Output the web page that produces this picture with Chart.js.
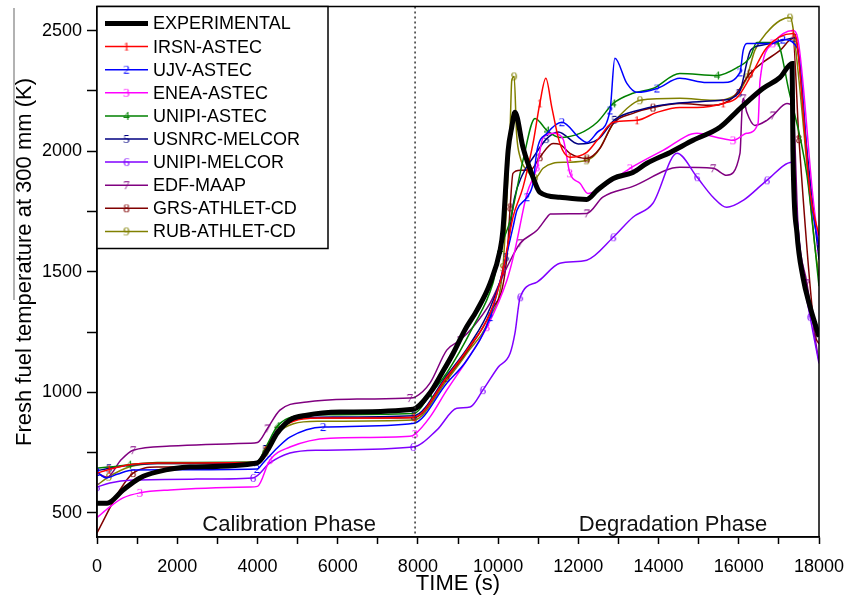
<!DOCTYPE html>
<html>
<head>
<meta charset="utf-8">
<script src="https://cdn.jsdelivr.net/npm/chart.js@4.4.0/dist/chart.umd.min.js"></script>
<style>
  html, body { margin: 0; padding: 0; background: #fff; }
  #wrap { width: 848px; height: 597px; }
</style>
</head>
<body>
<div id="wrap"><canvas id="tempChart" width="848" height="597"></canvas></div>
<script>
// time (s) / temperature (K)
const expT = [0, 250, 650, 1070, 1500, 2320, 3990, 4250, 4490, 4810, 5230, 6060, 7880, 8300, 8600, 8880, 9170, 9470, 9800, 10050, 10120, 10250, 10340, 10420, 10620, 10870, 11040, 11540, 12210, 12470, 12870, 13360, 13710, 14290, 14860, 15530, 16030, 16600, 17030, 17330, 17350, 17450, 17600, 17780, 17950, 18000];
const expV = [540, 540, 595, 645, 670, 690, 707, 760, 830, 885, 905, 918, 930, 997, 1080, 1162, 1258, 1340, 1452, 1590, 1672, 2003, 2099, 2161, 2016, 1892, 1830, 1809, 1800, 1838, 1887, 1912, 1950, 1995, 2045, 2099, 2177, 2260, 2306, 2364, 2003, 1660, 1477, 1353, 1258, 1230];

const irsnT = [0, 300, 800, 1500, 3990, 4200, 4500, 4900, 5500, 7900, 8720, 9220, 9800, 10120, 10370, 10620, 10870, 11040, 11190, 11340, 11540, 11790, 12210, 12470, 12870, 13460, 13960, 14530, 14960, 15610, 15960, 16280, 16700, 17350, 17450, 17780, 18000];
const irsnV = [665, 680, 700, 707, 710, 760, 840, 880, 893, 897, 1063, 1175, 1328, 1506, 1726, 1850, 2032, 2198, 2302, 2181, 2032, 1975, 1995, 2045, 2120, 2128, 2161, 2181, 2181, 2198, 2223, 2306, 2430, 2488, 2450, 1825, 1650];

const ujvT = [0, 230, 500, 900, 3990, 4140, 4500, 4810, 5640, 7900, 8720, 9220, 9800, 10220, 10370, 10470, 10720, 10870, 10970, 11220, 11590, 12040, 12210, 12470, 12790, 12910, 13210, 13460, 13960, 14530, 15200, 15610, 16030, 16110, 16200, 16850, 17100, 17450, 17800, 18000];
const ujvV = [670, 645, 660, 678, 682, 707, 770, 814, 856, 872, 1038, 1133, 1312, 1577, 1684, 1755, 1809, 1867, 2003, 2074, 2120, 2053, 2036, 2078, 2169, 2385, 2281, 2244, 2260, 2302, 2285, 2285, 2327, 2418, 2447, 2447, 2463, 2430, 1800, 1600];

const eneaT = [0, 320, 650, 1070, 1820, 3810, 4000, 4310, 4810, 5810, 7800, 7930, 8300, 8720, 9220, 9720, 10220, 10420, 10720, 10970, 11120, 11370, 11620, 11790, 12040, 12240, 12470, 13290, 14110, 14960, 15460, 15860, 16200, 16480, 16530, 16850, 17350, 17480, 17850, 18000];
const eneaV = [480, 525, 562, 583, 595, 607, 610, 719, 773, 810, 818, 827, 897, 1009, 1133, 1270, 1465, 1590, 1825, 1933, 2057, 2074, 2050, 1908, 1867, 1825, 1838, 1929, 2003, 2074, 2057, 2045, 2074, 2115, 2293, 2447, 2500, 2459, 1809, 1600];

const unipiAT = [0, 300, 800, 1500, 3990, 4200, 4500, 4900, 5500, 7900, 8300, 8720, 9370, 9870, 10050, 10300, 10620, 10920, 11220, 11540, 12040, 12470, 12870, 13360, 13860, 14530, 15460, 15960, 16280, 16450, 16950, 17250, 17700, 18000];
const unipiAV = [686, 690, 700, 709, 712, 770, 860, 900, 907, 912, 990, 1080, 1270, 1452, 1590, 1713, 1962, 2136, 2086, 2057, 2074, 2120, 2198, 2240, 2260, 2322, 2314, 2347, 2389, 2451, 2451, 2250, 1900, 1440];

const usnrcT = [0, 300, 800, 1500, 3990, 4200, 4500, 4900, 5500, 7900, 8720, 9300, 9800, 10200, 10400, 10600, 10900, 11200, 11500, 12000, 12500, 12900, 13500, 14500, 15500, 16000, 16300, 16600, 17100, 17400, 17700, 18000];
const usnrcV = [675, 685, 698, 705, 708, 765, 845, 885, 897, 903, 1070, 1200, 1350, 1560, 1800, 1900, 1980, 2050, 2080, 2030, 2050, 2130, 2170, 2200, 2210, 2240, 2420, 2440, 2460, 2470, 2000, 1550];

const unipiMT = [0, 320, 900, 2390, 3890, 4310, 4810, 5480, 7880, 8470, 8970, 9300, 9620, 10000, 10300, 10420, 10550, 10970, 11540, 12210, 12870, 13360, 13860, 14460, 14960, 15360, 15700, 16110, 16700, 17330, 17450, 17580, 17780, 18000];
const unipiMV = [607, 624, 636, 640, 645, 707, 748, 760, 773, 843, 934, 939, 1009, 1104, 1162, 1245, 1394, 1457, 1535, 1548, 1643, 1726, 1784, 1991, 1892, 1809, 1767, 1796, 1879, 1954, 1726, 1506, 1312, 1120];

const edfT = [0, 250, 600, 900, 1820, 3810, 4000, 4250, 4560, 5230, 6480, 7800, 7930, 8300, 8720, 9050, 9370, 9800, 10220, 10550, 10970, 11220, 11300, 12210, 12610, 13360, 14530, 15360, 15700, 16030, 16080, 16110, 16200, 16400, 16700, 16850, 17200, 17350, 17480, 17700, 17950, 18000];
const edfV = [665, 648, 720, 760, 777, 789, 792, 850, 926, 960, 972, 976, 980, 1038, 1175, 1216, 1270, 1370, 1519, 1618, 1672, 1726, 1740, 1742, 1809, 1854, 1933, 1929, 1900, 1991, 2169, 2219, 2161, 2107, 2128, 2148, 2198, 2182, 1684, 1452, 1175, 1130];

const grsT = [0, 570, 900, 1500, 3990, 4200, 4500, 4900, 5500, 7900, 8720, 9220, 9800, 10220, 10300, 10370, 10550, 10800, 11040, 11370, 11540, 11790, 12210, 12540, 12870, 13360, 13860, 14530, 15360, 15860, 16280, 16600, 17030, 17350, 17500, 17900, 18000];
const grsV = [417, 595, 665, 690, 705, 760, 845, 885, 893, 895, 1060, 1170, 1330, 1560, 1767, 1908, 1921, 1921, 1975, 2032, 2028, 1991, 1970, 2012, 2115, 2157, 2181, 2198, 2190, 2223, 2322, 2368, 2418, 2467, 2050, 1245, 1200];

const rubT = [0, 300, 800, 1500, 3990, 4200, 4500, 4900, 5500, 7900, 8720, 9220, 9800, 10120, 10220, 10300, 10340, 10400, 10460, 10550, 10720, 10920, 11120, 11370, 11710, 12210, 12470, 12870, 13210, 13540, 14530, 15360, 15960, 16200, 16400, 16700, 17030, 17280, 17350, 17900, 18000];
const rubV = [615, 650, 690, 705, 708, 750, 830, 870, 880, 885, 1050, 1162, 1312, 1519, 1809, 2099, 2293, 2310, 2074, 1975, 1921, 1888, 1929, 1950, 1954, 1962, 1995, 2115, 2177, 2211, 2219, 2211, 2240, 2306, 2418, 2492, 2542, 2554, 2513, 1600, 1480];

const labels = ['EXPERIMENTAL', 'IRSN-ASTEC', 'UJV-ASTEC', 'ENEA-ASTEC', 'UNIPI-ASTEC', 'USNRC-MELCOR', 'UNIPI-MELCOR', 'EDF-MAAP', 'GRS-ATHLET-CD', 'RUB-ATHLET-CD'];
const times = [expT, irsnT, ujvT, eneaT, unipiAT, usnrcT, unipiMT, edfT, grsT, rubT];
const temps = [expV, irsnV, ujvV, eneaV, unipiAV, usnrcV, unipiMV, edfV, grsV, rubV];

// axis ticks (labelled ones are every 2000 s and every 500 K)
const xTicks = [0, 1000, 2000, 3000, 4000, 5000, 6000, 7000, 8000, 9000, 10000, 11000, 12000, 13000, 14000, 15000, 16000, 17000, 18000];
const yTicks = [500, 750, 1000, 1250, 1500, 1750, 2000, 2250, 2500];

const colors = ['#000000', '#ff0000', '#0000ff', '#ff00ff', '#008000', '#000080', '#8000ff', '#800080', '#800000', '#808000'];
const FONT = '"Liberation Sans", Arial, sans-serif';

// small digit glyphs used as line markers
function digitMark(n, color) {
  const c = document.createElement('canvas');
  c.width = 10; c.height = 14;
  const g = c.getContext('2d');
  g.fillStyle = color;
  g.font = '13px "Liberation Serif", serif';
  g.textAlign = 'center';
  g.textBaseline = 'middle';
  g.fillText(String(n), 5, 7.5);
  return c;
}
const marks = colors.map((c, i) => i === 0 ? null : digitMark(i, c));

const datasets = labels.map((lab, i) => ({
  label: lab,
  data: times[i].map((t, k) => ({ x: t, y: temps[i][k] })),
  borderColor: colors[i],
  backgroundColor: colors[i],
  borderWidth: i === 0 ? 5 : 1.5,
  cubicInterpolationMode: 'monotone',
  pointStyle: marks[i] || 'circle',
  pointRadius: i === 0 ? 0 : (ctx => ((ctx.dataIndex + i) % 4 === 2 ? 5 : 0)),
  pointHoverRadius: 0,
  pointHitRadius: 0,
  fill: false
}));

const decorPlugin = {
  id: 'decor',
  afterDatasetsDraw(chart) {
    const { ctx, chartArea: a, scales: { x, y } } = chart;
    ctx.save();
    // phase separator
    const xs = x.getPixelForValue(7930);
    ctx.strokeStyle = '#333';
    ctx.lineWidth = 1.5;
    ctx.setLineDash([2, 3]);
    ctx.beginPath(); ctx.moveTo(xs, a.top); ctx.lineTo(xs, a.bottom); ctx.stroke();
    ctx.setLineDash([]);

    // phase names
    ctx.fillStyle = '#111';
    ctx.font = '22px ' + FONT;
    ctx.textAlign = 'center';
    ctx.textBaseline = 'middle';
    ctx.fillText('Calibration Phase', x.getPixelForValue(4790), y.getPixelForValue(450));
    ctx.fillText('Degradation Phase', x.getPixelForValue(14360), y.getPixelForValue(450));

    // frame
    ctx.strokeStyle = '#000';
    ctx.lineWidth = 1.5;
    ctx.strokeRect(a.left, a.top, a.right - a.left, a.bottom - a.top);

    // legend box
    const lx = a.left, ly = a.top, lw = 231, lh = 242;
    ctx.fillStyle = '#fff';
    ctx.fillRect(lx, ly, lw, lh);
    ctx.strokeRect(lx, ly, lw, lh);
    ctx.font = '18px ' + FONT;
    ctx.textAlign = 'left';
    chart.data.datasets.forEach((ds, i) => {
      const ry = ly + 17 + i * 23.1;
      ctx.strokeStyle = ds.borderColor;
      ctx.lineWidth = ds.borderWidth;
      ctx.beginPath(); ctx.moveTo(lx + 8, ry); ctx.lineTo(lx + 51, ry); ctx.stroke();
      if (marks[i]) ctx.drawImage(marks[i], lx + 29.5 - 5, ry - 7);
      ctx.fillStyle = '#000';
      ctx.fillText(ds.label, lx + 56, ry + 1);
    });

    // rotated y title and the grey rule beside it
    ctx.strokeStyle = '#999';
    ctx.lineWidth = 1.5;
    ctx.beginPath(); ctx.moveTo(14, 8); ctx.lineTo(14, 300); ctx.stroke();
    ctx.translate(25, 262);
    ctx.rotate(-Math.PI / 2);
    ctx.fillStyle = '#000';
    ctx.font = '22px ' + FONT;
    ctx.textAlign = 'center';
    ctx.textBaseline = 'middle';
    ctx.fillText('Fresh fuel temperature at 300 mm (K)', 0, 0);
    ctx.restore();
  }
};

new Chart(document.getElementById('tempChart'), {
  type: 'line',
  data: { datasets: datasets },
  options: {
    responsive: false,
    animation: false,
    layout: { padding: { left: 0, right: 29, top: 6, bottom: 0 } },
    plugins: { legend: { display: false }, tooltip: { enabled: false } },
    scales: {
      x: {
        type: 'linear',
        min: 0, max: 18000,
        border: { color: '#000', width: 1.5 },
        grid: { display: true, drawOnChartArea: false, tickLength: 7, tickColor: '#000', tickWidth: 1.5 },
        ticks: {
          autoSkip: false, maxRotation: 0, padding: 12,
          color: '#000', font: { family: FONT, size: 18 },
          callback: v => (v % 2000 === 0 ? v : '')
        },
        afterBuildTicks: s => { s.ticks = xTicks.map(v => ({ value: v })); },
        title: { display: true, text: 'TIME (s)', color: '#000', font: { family: FONT, size: 22 }, padding: { top: 0, bottom: 0 } },
        afterFit: s => { s.height = 60; s.paddingLeft = 0; s.paddingRight = 0; }
      },
      y: {
        type: 'linear',
        min: 400, max: 2600,
        border: { color: '#000', width: 1.5 },
        grid: { display: true, drawOnChartArea: false, tickLength: 10, tickColor: '#000', tickWidth: 1.5 },
        ticks: {
          autoSkip: false, padding: 5,
          color: '#000', font: { family: FONT, size: 18 },
          callback: v => (v % 500 === 0 ? v : '')
        },
        afterBuildTicks: s => { s.ticks = yTicks.map(v => ({ value: v })); },
        afterFit: s => { s.width = 97; s.paddingTop = 0; s.paddingBottom = 0; }
      }
    }
  },
  plugins: [decorPlugin]
});
</script>
</body>
</html>
